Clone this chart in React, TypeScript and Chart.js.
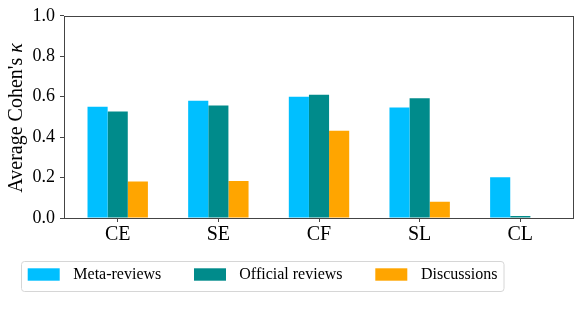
import React, { useEffect, useRef } from "react";
import { Chart, registerables } from "chart.js";

Chart.register(...registerables);

const categories = ["CE", "SE", "CF", "SL", "CL"];
const metaReviews = [0.55, 0.58, 0.6, 0.547, 0.202];
const officialReviews = [0.527, 0.556, 0.609, 0.592, 0.01];
const discussions = [0.181, 0.183, 0.431, 0.08, 0];
const seriesLabels = ["Meta-reviews", "Official reviews", "Discussions"];
const seriesColors = ["#00BFFF", "#008B8B", "#FFA500"];
const yTicks = [0, 0.2, 0.4, 0.6, 0.8, 1.0];

const FONT = "'Liberation Serif', 'Times New Roman', serif";
Chart.defaults.font.family = FONT;

const framePlugin = {
  id: "frameAndExtras",
  afterDraw(chart: any) {
    const ctx = chart.ctx as CanvasRenderingContext2D;
    const a = chart.chartArea;
    ctx.save();
    ctx.strokeStyle = "#444";
    ctx.lineWidth = 1;
    ctx.strokeRect(Math.round(a.left) + 0.5, Math.round(a.top) + 0.5, Math.round(a.right - a.left) - 1, Math.round(a.bottom - a.top));

    ctx.fillStyle = "#000";
    ctx.translate(16.5, (a.top + a.bottom) / 2 + 1);
    ctx.rotate(-Math.PI / 2);
    ctx.textBaseline = "middle";
    const part1 = "Average Cohen's ";
    const part2 = "\u03BA";
    ctx.font = `20px ${FONT}`;
    const w1 = ctx.measureText(part1).width;
    ctx.font = `italic 20px ${FONT}`;
    const w2 = ctx.measureText(part2).width;
    const start = -(w1 + w2) / 2;
    ctx.font = `20px ${FONT}`;
    ctx.textAlign = "left";
    ctx.fillText(part1, start, 0);
    ctx.font = `italic 20px ${FONT}`;
    ctx.fillText(part2, start + w1, 0);
    ctx.restore();

    ctx.save();
    const lx = 21.5, ly = 261.5, lw = 482.5, lh = 30;
    const r = 3;
    ctx.beginPath();
    ctx.moveTo(lx + r, ly);
    ctx.lineTo(lx + lw - r, ly);
    ctx.arcTo(lx + lw, ly, lx + lw, ly + r, r);
    ctx.lineTo(lx + lw, ly + lh - r);
    ctx.arcTo(lx + lw, ly + lh, lx + lw - r, ly + lh, r);
    ctx.lineTo(lx + r, ly + lh);
    ctx.arcTo(lx, ly + lh, lx, ly + lh - r, r);
    ctx.lineTo(lx, ly + r);
    ctx.arcTo(lx, ly, lx + r, ly, r);
    ctx.closePath();
    ctx.fillStyle = "rgba(255,255,255,0.8)";
    ctx.fill();
    ctx.strokeStyle = "#d6d6d6";
    ctx.lineWidth = 1;
    ctx.stroke();
    const swatchX = [27.7, 194, 375.3];
    const textX = [73.3, 239.3, 421];
    chart.data.datasets.forEach((ds: any, i: number) => {
      ctx.fillStyle = ds.backgroundColor;
      ctx.fillRect(swatchX[i], 268.3, 32, 12.4);
      ctx.fillStyle = "#000";
      ctx.font = `16px ${FONT}`;
      ctx.textBaseline = "middle";
      ctx.textAlign = "left";
      ctx.fillText(ds.label, textX[i], 275);
    });
    ctx.restore();
  },
};

export default function App() {
  const ref = useRef<HTMLCanvasElement | null>(null);
  useEffect(() => {
    if (!ref.current) return;
    const chart = new Chart(ref.current, {
      type: "bar",
      data: {
        labels: categories,
        datasets: [
          { label: seriesLabels[0], data: metaReviews, backgroundColor: seriesColors[0] },
          { label: seriesLabels[1], data: officialReviews, backgroundColor: seriesColors[1] },
          { label: seriesLabels[2], data: discussions, backgroundColor: seriesColors[2] },
        ],
      },
      options: {
        animation: false,
        responsive: true,
        maintainAspectRatio: false,
        layout: { padding: { top: 10, right: 12, left: 0, bottom: 0 } },
        datasets: { bar: { categoryPercentage: 0.6, barPercentage: 1.0, borderWidth: 0 } },
        plugins: { legend: { display: false }, tooltip: { enabled: false } },
        scales: {
          x: {
            type: "category",
            offset: true,
            grid: { offset: false, drawOnChartArea: false, drawTicks: true, tickLength: 4, color: "#444" },
            border: { display: false },
            ticks: { color: "#000", font: { family: FONT, size: 20 }, padding: 1, maxRotation: 0 },
            afterBuildTicks: (scale: any) => {
              scale._startValue = -0.5336;
              scale._valueRange = 5.067;
            },
            afterFit: (scale: any) => {
              scale.height = 101;
            },
          },
          y: {
            min: 0,
            max: 1,
            grid: { drawOnChartArea: false, drawTicks: true, tickLength: 4, color: "#444" },
            border: { display: false },
            afterBuildTicks: (scale: any) => {
              scale.ticks = yTicks.map((v) => ({ value: v }));
            },
            ticks: {
              color: "#000",
              font: { family: FONT, size: 18 },
              padding: 5,
              callback: (v: any) => Number(v).toFixed(1),
            },
            afterFit: (scale: any) => {
              scale.width = 64;
            },
          },
        },
      },
      plugins: [framePlugin],
    });
    return () => chart.destroy();
  }, []);
  return (
    <div style={{ position: "fixed", left: 0, top: 0, width: 586, height: 319, background: "#fff" }}>
      <canvas ref={ref} />
    </div>
  );
}
